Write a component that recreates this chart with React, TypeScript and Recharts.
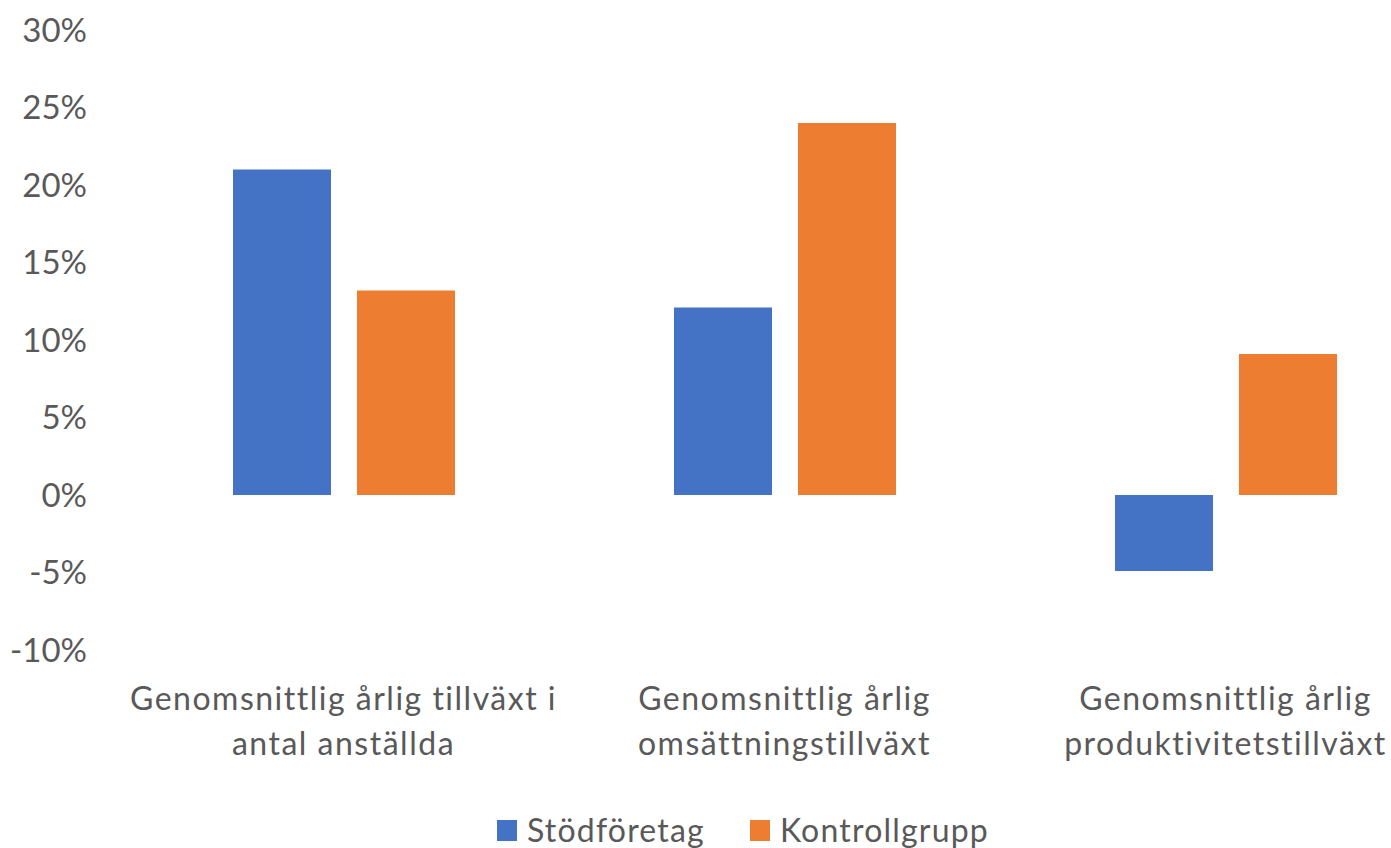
import { Bar, BarChart, Legend, XAxis, YAxis } from "recharts";

const categories = [
  "Genomsnittlig årlig tillväxt i antal anställda",
  "Genomsnittlig årlig omsättningstillväxt",
  "Genomsnittlig årlig produktivitetstillväxt",
];
const stodforetag = [21.0, 12.1, -4.9];
const kontrollgrupp = [13.2, 24.0, 9.1];
const yTicks = [-10, -5, 0, 5, 10, 15, 20, 25, 30];

const seriesNames = { stod: "Stödföretag", kontroll: "Kontrollgrupp" };
const colors = { stod: "#4472C4", kontroll: "#ED7D31" };
const textColor = "#595959";
const font = "Lato, 'Open Sans', sans-serif";

const data = categories.map((name, i) => ({
  name,
  stod: stodforetag[i],
  kontroll: kontrollgrupp[i],
}));

function wrap(label: string, max = 30) {
  const lines: string[] = [];
  let line = "";
  for (const word of label.split(" ")) {
    const next = line ? `${line} ${word}` : word;
    if (next.length > max && line) {
      lines.push(line);
      line = word;
    } else {
      line = next;
    }
  }
  if (line) lines.push(line);
  return lines;
}

function CategoryTick({ x, y, payload }: any) {
  const lines = wrap(String(payload.value));
  return (
    <text x={x} y={y} textAnchor="middle" fill={textColor} fontSize={32} letterSpacing={1.5} fontFamily={font}>
      {lines.map((line, i) => (
        <tspan key={i} x={x} dy={i === 0 ? 52 : 45}>
          {line}
        </tspan>
      ))}
    </text>
  );
}

function LegendContent() {
  const items = [
    { key: "stod", label: seriesNames.stod, color: colors.stod },
    { key: "kontroll", label: seriesNames.kontroll, color: colors.kontroll },
  ];
  return (
    <div
      style={{
        display: "flex",
        justifyContent: "center",
        gap: 45,
        fontFamily: font,
        fontSize: 32,
        letterSpacing: 1.2,
        color: textColor,
        lineHeight: "44px",
      }}
    >
      {items.map((item) => (
        <div key={item.key} style={{ display: "flex", alignItems: "center", gap: 10 }}>
          <span style={{ display: "inline-block", width: 20, height: 21, background: item.color }} />
          <span>{item.label}</span>
        </div>
      ))}
    </div>
  );
}

export default function App() {
  return (
    <div style={{ position: "absolute", left: 0, top: 0, width: 1391, height: 848, overflow: "hidden", background: "#fff" }}>
      <BarChart
        width={1460}
        height={848}
        data={data}
        margin={{ top: 30, right: 14, bottom: 0, left: 0 }}
        barSize={98}
        barGap={26}
      >
        <XAxis dataKey="name" axisLine={false} tickLine={false} interval={0} height={154} tick={<CategoryTick />} />
        <YAxis
          width={123}
          domain={[-10, 30]}
          ticks={yTicks}
          interval={0}
          axisLine={false}
          tickLine={false}
          tickMargin={30}
          tickFormatter={(v: number) => `${v}%`}
          tick={{ fill: textColor, fontSize: 33, fontFamily: font }}
        />
        <Legend
          verticalAlign="bottom"
          content={<LegendContent />}
          wrapperStyle={{ left: 0, width: 1486, top: 808, height: 44 }}
        />
        <Bar dataKey="stod" name={seriesNames.stod} fill={colors.stod} isAnimationActive={false} />
        <Bar dataKey="kontroll" name={seriesNames.kontroll} fill={colors.kontroll} isAnimationActive={false} />
      </BarChart>
    </div>
  );
}
